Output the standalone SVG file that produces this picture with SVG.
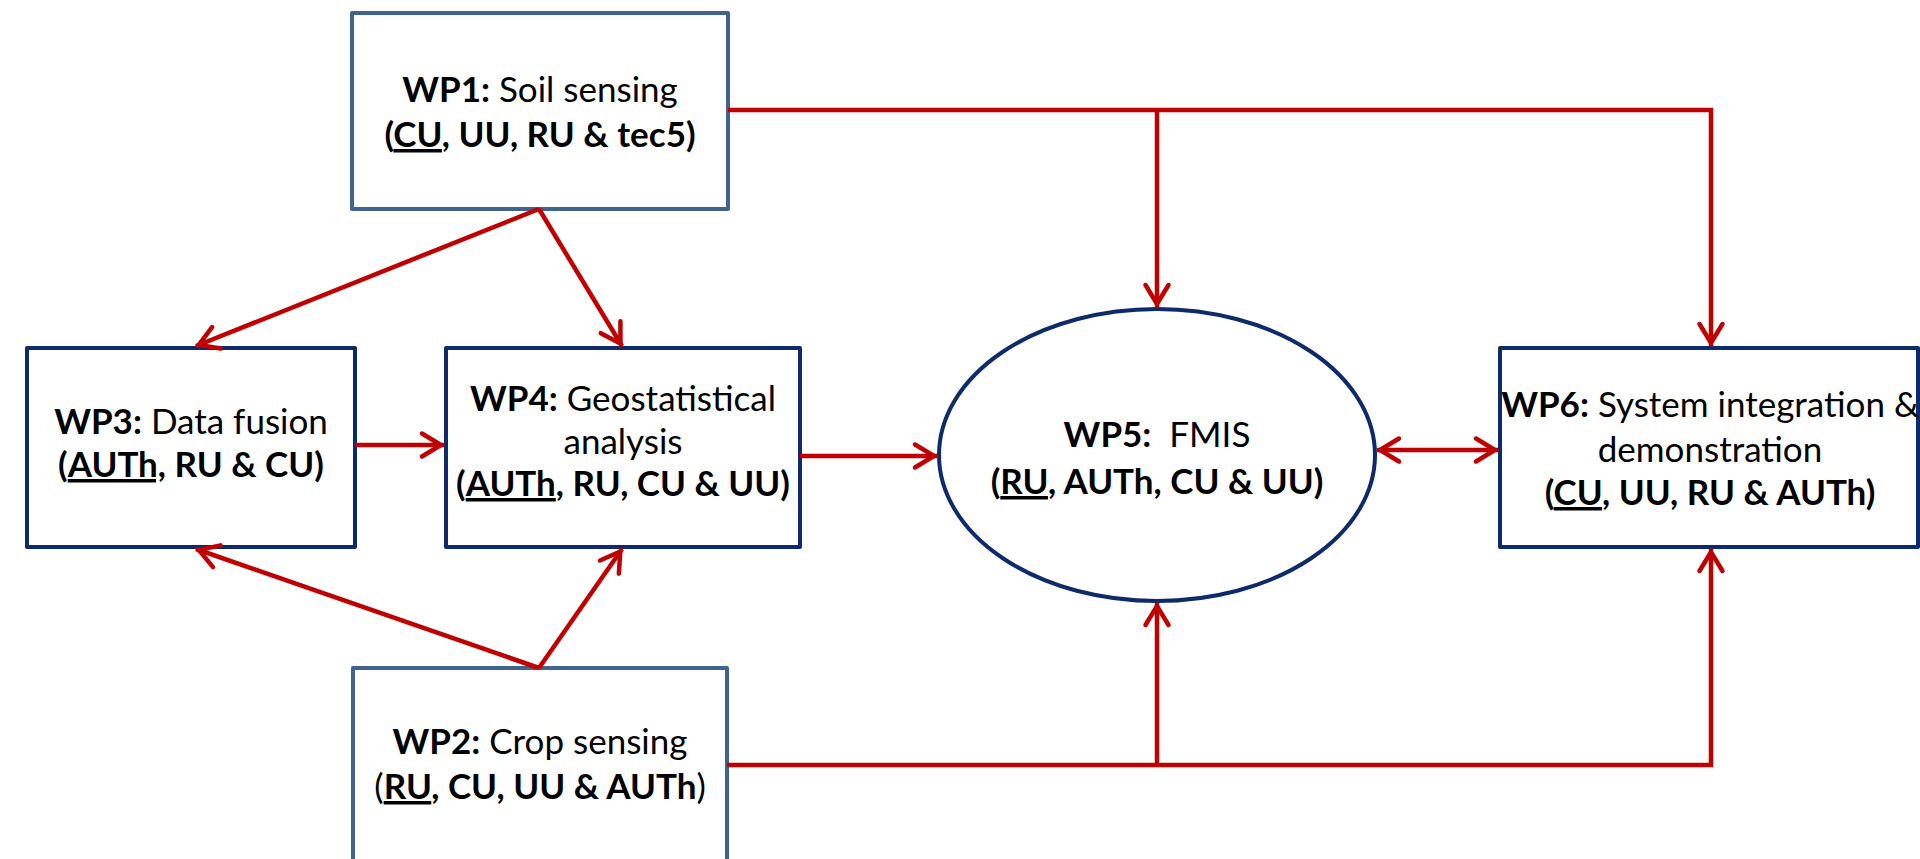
<svg xmlns="http://www.w3.org/2000/svg" width="1920" height="859" viewBox="0 0 1920 859">
<defs>
<style>
.bg{fill:#ffffff}
.nodeA{fill:#ffffff;stroke:#41648f;stroke-width:4;stroke-linejoin:round}
.nodeB{fill:#ffffff;stroke:#0d2a6b;stroke-width:4;stroke-linejoin:round}
.conn{fill:none;stroke:#c00000;stroke-width:4.5}
.t{font-family:Lato,"Open Sans","Liberation Sans",sans-serif;font-size:35px;fill:#000000;text-anchor:middle}
.b{font-weight:bold}
.r{font-weight:normal}
.u{text-decoration:underline}
</style>
<marker id="ah" viewBox="-26 -15 30 30" refX="0" refY="0" markerWidth="30" markerHeight="30" markerUnits="userSpaceOnUse" orient="auto-start-reverse">
<path d="M-22,-11.5 L-3,0 L-22,11.5" fill="none" stroke="#c00000" stroke-width="4.5" stroke-linejoin="miter" stroke-linecap="round"/>
</marker>
</defs>
<rect class="bg" x="0" y="0" width="1920" height="859"/>

<g id="wp1">
<rect class="nodeA" x="352" y="13" width="376" height="196"/>
<text class="t" x="540" y="102"><tspan class="b">WP1:</tspan> Soil sensing</text>
<text class="t b" x="540" y="147">(<tspan class="u">CU</tspan>, UU, RU &amp; tec5)</text>
</g>

<g id="wp2">
<rect class="nodeA" x="353" y="668" width="374" height="220"/>
<text class="t" x="540" y="754"><tspan class="b">WP2:</tspan> Crop sensing</text>
<text class="t" x="540" y="799">(<tspan class="b"><tspan class="u">RU</tspan>, CU, UU &amp; AUTh</tspan>)</text>
</g>

<g id="wp3">
<rect class="nodeB" x="27" y="348" width="328" height="199"/>
<text class="t" x="191" y="434"><tspan class="b">WP3:</tspan> Data fusion</text>
<text class="t b" x="191" y="477">(<tspan class="u">AUTh,</tspan> RU &amp; CU)</text>
</g>

<g id="wp4">
<rect class="nodeB" x="446" y="348" width="354" height="199"/>
<text class="t" x="623" y="411"><tspan class="b">WP4:</tspan> Geostatistical</text>
<text class="t" x="623" y="454">analysis</text>
<text class="t b" x="623" y="496">(<tspan class="u">AUTh</tspan>, RU, CU &amp; UU)</text>
</g>

<g id="wp5">
<ellipse class="nodeB" cx="1157" cy="455" rx="218" ry="146"/>
<text class="t" x="1157" y="447" xml:space="preserve"><tspan class="b">WP5:</tspan>  FMIS</text>
<text class="t b" x="1157" y="494">(<tspan class="u">RU</tspan>, AUTh, CU &amp; UU)</text>
</g>

<g id="wp6">
<rect class="nodeB" x="1500" y="348" width="418" height="199"/>
<text class="t" x="1710" y="417"><tspan class="b">WP6:</tspan> System integration &amp;</text>
<text class="t" x="1710" y="462">demonstration</text>
<text class="t b" x="1710" y="505">(<tspan class="u">CU</tspan>, UU, RU &amp; AUTh)</text>
</g>

<g id="connectors">
<path class="conn" d="M728,110 H1711 V346" marker-end="url(#ah)"/>
<path class="conn" d="M1157,110 V307" marker-end="url(#ah)"/>
<path class="conn" d="M727,765 H1711 V549" marker-end="url(#ah)"/>
<path class="conn" d="M1157,765 V603" marker-end="url(#ah)"/>
<path class="conn" d="M539,209 L196,346" marker-end="url(#ah)"/>
<path class="conn" d="M539,209 L622,346" marker-end="url(#ah)"/>
<path class="conn" d="M539,668 L196,549" marker-end="url(#ah)"/>
<path class="conn" d="M539,668 L622,549" marker-end="url(#ah)"/>
<path class="conn" d="M355,445 H444" marker-end="url(#ah)"/>
<path class="conn" d="M800,456 H937" marker-end="url(#ah)"/>
<path class="conn" d="M1377,450 H1498" marker-start="url(#ah)" marker-end="url(#ah)"/>
</g>
</svg>
